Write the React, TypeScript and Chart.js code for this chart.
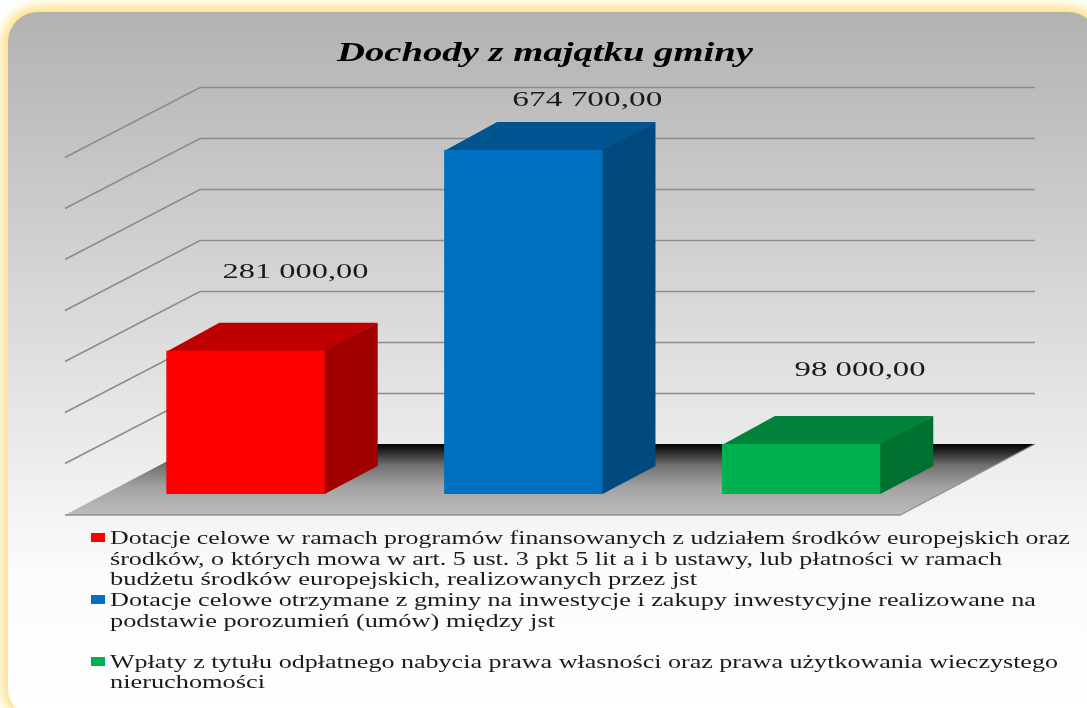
import React, { useEffect, useRef } from "react";
import { Chart, registerables } from "chart.js";

Chart.register(...registerables);

const titleText = "Dochody z majątku gminy";
const categories = ["Dotacje celowe w ramach programów", "Dotacje celowe otrzymane z gminy", "Wpłaty z tytułu odpłatnego nabycia"];
const values = [281000, 674700, 98000];
const valueLabels = ["281 000,00", "674 700,00", "98 000,00"];
const frontColors = ["#ff0000", "#0070c0", "#00b050"];
const topColors = ["#bf0000", "#00548f", "#00843c"];
const sideColors = ["#a00000", "#004a80", "#007030"];
const gridValues = [100000, 200000, 300000, 400000, 500000, 600000, 700000];
const legendLines = [
  ["Dotacje celowe w ramach programów finansowanych z udziałem środków europejskich oraz", "środków, o których mowa w art. 5 ust. 3 pkt 5 lit a i b ustawy, lub płatności w ramach", "budżetu środków europejskich, realizowanych przez jst"],
  ["Dotacje celowe otrzymane z gminy na inwestycje i zakupy inwestycyjne realizowane na", "podstawie porozumień (umów) między jst"],
  ["Wpłaty z tytułu odpłatnego nabycia prawa własności oraz prawa użytkowania wieczystego", "nieruchomości"],
];

// layout only
const W = 1087, H = 708;
const BAR = { dx: 53, dy: -28 };
const BACK = { dy: -50 };
const WALL = { left: 65, corner: 200, right: 1035, drop: 70 };
const FLOOR_FRONT_RIGHT = 900;
const labelOffsets = [[50, -81], [64, -52], [59, -76]];
const labelWidths = [146, 150, 131];
const legendBaselines = [[544, 565, 585], [606, 627], [668, 688]];
const legendWidths = [[960, 892, 587], [926, 445], [948, 155]];
const markerTops = [533, 595, 657];

function stretched(ctx: CanvasRenderingContext2D, text: string, x: number, y: number, width: number, font: string) {
  ctx.save();
  ctx.font = font;
  ctx.textAlign = "left";
  ctx.textBaseline = "alphabetic";
  const m = ctx.measureText(text).width;
  ctx.translate(x, y);
  ctx.scale(width / m, 1);
  ctx.fillText(text, 0, 0);
  ctx.restore();
}

const scenePlugin = {
  id: "scene",
  beforeDraw(chart: any) {
    const { ctx } = chart;
    ctx.save();
    ctx.fillStyle = "#ffffff";
    ctx.fillRect(0, 0, W, H);
    const panel = new Path2D();
    panel.roundRect(8, 12, 1090, 706, 30);
    ctx.shadowColor = "#ffdf86";
    ctx.shadowBlur = 15;
    ctx.fillStyle = "#ffe9a8";
    ctx.fill(panel);
    ctx.fill(panel);
    ctx.fill(panel);
    ctx.shadowBlur = 0;
    ctx.shadowColor = "transparent";
    const g = ctx.createLinearGradient(0, 12, 0, 570);
    g.addColorStop(0, "#b2b2b2");
    g.addColorStop(1, "#fbfbfb");
    ctx.fillStyle = g;
    ctx.fill(panel);
    const g2 = ctx.createLinearGradient(0, 570, 0, 708);
    g2.addColorStop(0, "#fbfbfb");
    g2.addColorStop(1, "#ffffff");
    ctx.fillStyle = g2;
    ctx.save();
    ctx.clip(panel);
    ctx.fillRect(0, 570, W, H - 570);
    ctx.restore();
    ctx.restore();
  },
  beforeDatasetsDraw(chart: any) {
    const { ctx, scales } = chart;
    const y = scales.y;
    ctx.save();
    // floor
    const floorBack = y.getPixelForValue(0) + BACK.dy;
    const floorFront = floorBack + WALL.drop + 1;
    const fg = ctx.createLinearGradient(0, floorBack, 0, floorFront);
    fg.addColorStop(0, "#000000");
    fg.addColorStop(0.3, "#707070");
    fg.addColorStop(0.6, "#a2a2a2");
    fg.addColorStop(1, "#bcbcbc");
    ctx.fillStyle = fg;
    ctx.beginPath();
    ctx.moveTo(WALL.left, floorFront);
    ctx.lineTo(WALL.corner, floorBack);
    ctx.lineTo(WALL.right, floorBack);
    ctx.lineTo(FLOOR_FRONT_RIGHT, floorFront);
    ctx.closePath();
    ctx.fill();
    ctx.strokeStyle = "#909090";
    ctx.lineWidth = 1.3;
    ctx.beginPath();
    ctx.moveTo(WALL.left, floorFront);
    ctx.lineTo(FLOOR_FRONT_RIGHT, floorFront);
    ctx.lineTo(WALL.right, floorBack);
    ctx.stroke();
    // grid
    ctx.strokeStyle = "#8c8c8c";
    ctx.lineWidth = 1.6;
    gridValues.forEach((v) => {
      const py = Math.round(y.getPixelForValue(v) + BACK.dy) + 0.5;
      ctx.beginPath();
      ctx.moveTo(WALL.left, py + WALL.drop);
      ctx.lineTo(WALL.corner, py);
      ctx.lineTo(WALL.right, py);
      ctx.stroke();
    });
    // bar top and side faces
    chart.getDatasetMeta(0).data.forEach((bar: any, i: number) => {
      const l = bar.x - bar.width / 2;
      const r = bar.x + bar.width / 2;
      ctx.fillStyle = topColors[i];
      ctx.beginPath();
      ctx.moveTo(l, bar.y + 1);
      ctx.lineTo(l + BAR.dx, bar.y + BAR.dy);
      ctx.lineTo(r + BAR.dx, bar.y + BAR.dy);
      ctx.lineTo(r, bar.y + 1);
      ctx.closePath();
      ctx.fill();
      ctx.fillStyle = sideColors[i];
      ctx.beginPath();
      ctx.moveTo(r - 2, bar.y);
      ctx.lineTo(r, bar.y);
      ctx.lineTo(r + BAR.dx, bar.y + BAR.dy);
      ctx.lineTo(r + BAR.dx, bar.base + BAR.dy);
      ctx.lineTo(r, bar.base);
      ctx.lineTo(r - 2, bar.base);
      ctx.closePath();
      ctx.fill();
    });
    ctx.restore();
  },
  afterDraw(chart: any) {
    const { ctx } = chart;
    ctx.save();
    ctx.fillStyle = "#000000";
    stretched(ctx, titleText, 337, 61, 416, "italic bold 27px 'Liberation Serif'");
    ctx.fillStyle = "#1a1a1a";
    chart.getDatasetMeta(0).data.forEach((bar: any, i: number) => {
      const cx = bar.x + labelOffsets[i][0];
      const base = bar.y + labelOffsets[i][1] + 8;
      stretched(ctx, valueLabels[i], cx - labelWidths[i] / 2, base, labelWidths[i], "22px 'Liberation Serif'");
    });
    legendLines.forEach((lines, i) => {
      ctx.fillStyle = frontColors[i];
      ctx.fillRect(91, markerTops[i], 14, 9);
      ctx.fillStyle = "#1a1a1a";
      lines.forEach((line, j) => {
        stretched(ctx, line, 110, legendBaselines[i][j], legendWidths[i][j], "18px 'Liberation Serif'");
      });
    });
    ctx.restore();
  },
};

export default function App() {
  const ref = useRef<HTMLCanvasElement>(null);
  useEffect(() => {
    document.body.style.margin = "0";
    const chart = new Chart(ref.current as HTMLCanvasElement, {
      type: "bar",
      data: {
        labels: categories,
        datasets: [{ data: values, backgroundColor: frontColors, borderWidth: 0, barPercentage: 0.57, categoryPercentage: 1 }],
      },
      options: {
        animation: false,
        responsive: false,
        layout: { padding: { left: 106.6, right: 147, top: 137, bottom: 214 } },
        plugins: { legend: { display: false }, title: { display: false }, tooltip: { enabled: false } },
        scales: {
          x: { display: false },
          y: { display: false, min: 0, max: 700000 },
        },
      },
      plugins: [scenePlugin],
    });
    return () => chart.destroy();
  }, []);
  return <canvas ref={ref} width={W} height={H} style={{ display: "block", width: W, height: H }} />;
}
